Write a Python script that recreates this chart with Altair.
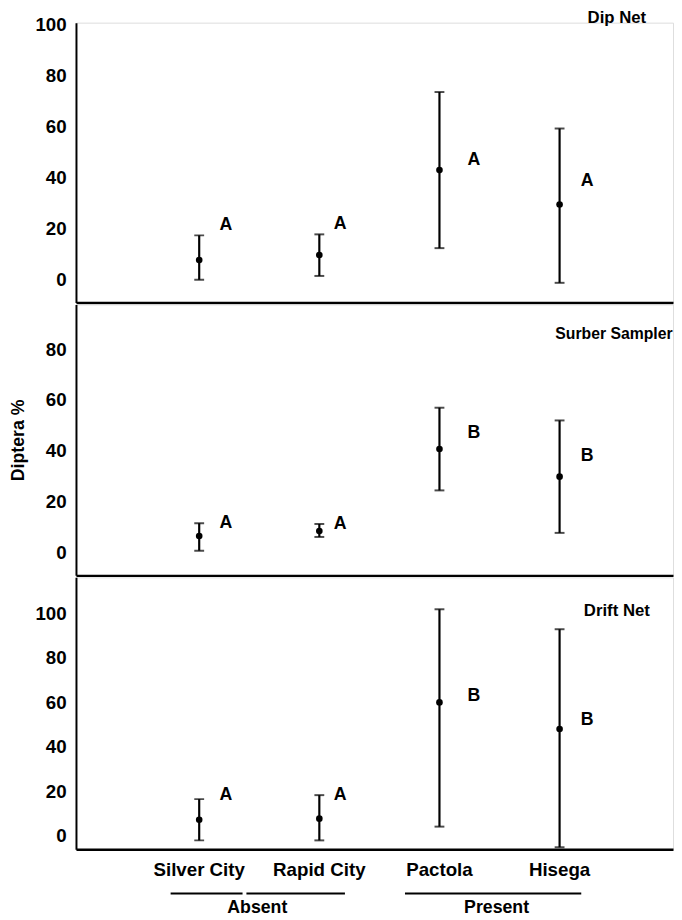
import altair as alt
import pandas as pd

sites = ["Silver City", "Rapid City", "Pactola", "Hisega"]

dip_mean = [7.7, 9.7, 43.0, 29.5]
dip_low = [0.0, 1.5, 12.4, -1.2]
dip_high = [17.4, 17.8, 73.6, 59.3]
dip_letter = ["A", "A", "A", "A"]
dip_letter_y = [21.5, 22.0, 47.0, 38.5]

surber_mean = [6.6, 8.5, 40.8, 29.9]
surber_low = [0.8, 6.2, 24.5, 7.8]
surber_high = [11.6, 11.3, 57.0, 52.0]
surber_letter = ["A", "A", "B", "B"]
surber_letter_y = [11.7, 11.3, 47.0, 38.0]

drift_mean = [7.1, 7.6, 60.0, 48.0]
drift_low = [-2.2, -2.2, 4.0, -5.3]
drift_high = [16.4, 18.2, 102.0, 93.0]
drift_letter = ["A", "A", "B", "B"]
drift_letter_y = [18.2, 18.2, 63.0, 52.0]

panel_titles = ["Dip Net", "Surber Sampler", "Drift Net"]
groups = ["Absent", "Present"]
group_first = ["Silver City", "Pactola"]
group_last = ["Rapid City", "Hisega"]

FONT = "Liberation Sans"
W = 606
xscale = alt.Scale(domain=sites, padding=0.97, align=0.521)
LETTER_DX = {"Silver City": 27, "Rapid City": 21, "Pactola": 35, "Hisega": 28}


def panel(mean, low, high, letters, letter_y, title, title_x, title_y, title_size,
          dom, height, tick_vals, ytitle=None, bottom=False):
    df = pd.DataFrame({"site": sites, "mean": mean, "low": low, "high": high,
                       "letter": letters, "ly": letter_y})
    x_axis = alt.Axis(
        title=None, ticks=False, domainColor="black", domainWidth=2.5,
        labels=bottom, labelFont=FONT, labelFontSize=19, labelFontWeight="bold",
        labelColor="black", labelPadding=12, labelAngle=0,
    )
    y_axis = alt.Axis(
        values=tick_vals, ticks=False, grid=False, domainColor="black",
        domainWidth=2, labelFont=FONT, labelFontSize=19, labelFontWeight="bold",
        labelColor="black", labelPadding=10,
        title=ytitle if ytitle else None,
        titleFont=FONT, titleFontSize=18, titleFontWeight="bold", titleColor="black",
        titlePadding=18,
    )
    yscale = alt.Scale(domain=dom, nice=False, zero=False)
    base = alt.Chart(df)
    x = alt.X("site:N", scale=xscale, sort=sites, axis=x_axis)
    rule = base.mark_rule(color="black", strokeWidth=2.2).encode(
        x=x, y=alt.Y("low:Q", scale=yscale, axis=y_axis), y2="high:Q")
    cap_lo = base.mark_tick(color="black", orient="horizontal", size=10, thickness=2).encode(
        x=x, y=alt.Y("low:Q", scale=yscale))
    cap_hi = base.mark_tick(color="black", orient="horizontal", size=10, thickness=2).encode(
        x=x, y=alt.Y("high:Q", scale=yscale))
    pts = base.mark_point(filled=True, color="black", size=45, opacity=1).encode(
        x=x, y=alt.Y("mean:Q", scale=yscale))
    layers = [rule, cap_lo, cap_hi, pts]
    for s in sites:
        layers.append(
            base.transform_filter(alt.datum.site == s).mark_text(
                font=FONT, fontSize=18, fontWeight="bold", color="black",
                dx=LETTER_DX[s], align="center", baseline="middle").encode(
                x=x, y=alt.Y("ly:Q", scale=yscale), text="letter:N"))
    ttl = alt.Chart(pd.DataFrame({"t": [title]})).mark_text(
        font=FONT, fontSize=title_size, fontWeight="bold", color="black",
        align="center", baseline="middle").encode(
        text="t:N", x=alt.value(title_x), y=alt.value(title_y))
    layers.append(ttl)
    if bottom:
        gdf = pd.DataFrame({"g": groups, "a": group_first, "b": group_last})
        gb = alt.Chart(gdf)
        xa = alt.X("a:N", scale=xscale, sort=sites, axis=x_axis)
        xb = alt.X("b:N", scale=xscale, sort=sites, axis=x_axis)
        uy = alt.value(height + 45)
        # Absent: two segments with a small gap; Present: one segment
        ul1 = gb.transform_filter(alt.datum.g == "Absent").mark_rule(
            color="black", strokeWidth=2, xOffset=-29, x2Offset=44).encode(
            x=xa, x2="a:N", y=uy)
        ul2 = gb.transform_filter(alt.datum.g == "Absent").mark_rule(
            color="black", strokeWidth=2, xOffset=-74, x2Offset=26).encode(
            x=xb, x2="b:N", y=uy)
        ul3 = gb.transform_filter(alt.datum.g == "Present").mark_rule(
            color="black", strokeWidth=2, xOffset=-35, x2Offset=22).encode(
            x=xa, x2="b:N", y=uy)
        gt1 = gb.transform_filter(alt.datum.g == "Absent").mark_text(
            font=FONT, fontSize=18, fontWeight="bold", color="black",
            align="center", baseline="middle", dx=59).encode(
            x=xa, text="g:N", y=alt.value(height + 60))
        gt2 = gb.transform_filter(alt.datum.g == "Present").mark_text(
            font=FONT, fontSize=18, fontWeight="bold", color="black",
            align="center", baseline="middle", dx=58).encode(
            x=xa, text="g:N", y=alt.value(height + 60))
        layers += [ul1, ul2, ul3, gt1, gt2]
    return alt.layer(*layers).properties(width=W, height=height)


p1 = panel(dip_mean, dip_low, dip_high, dip_letter, dip_letter_y, panel_titles[0],
           549, -5, 17, [-8.9, 100.8], 284, [0, 20, 40, 60, 80, 100])
p2 = panel(surber_mean, surber_low, surber_high, surber_letter, surber_letter_y,
           panel_titles[1], 546, 30, 16, [-8.9, 97.6], 275, [0, 20, 40, 60, 80],
           ytitle="Diptera %")
p3 = panel(drift_mean, drift_low, drift_high, drift_letter, drift_letter_y,
           panel_titles[2], 549, 34, 17, [-6.2, 116.4], 276,
           [0, 20, 40, 60, 80, 100], bottom=True)

chart = alt.vconcat(p1, p2, p3, spacing=0).properties(
    padding={"left": 1, "top": -7, "right": 0, "bottom": 0}
).configure_view(stroke=None).configure(background="white")

chart.save("out.html", embed_options={"renderer": "svg", "actions": False})
